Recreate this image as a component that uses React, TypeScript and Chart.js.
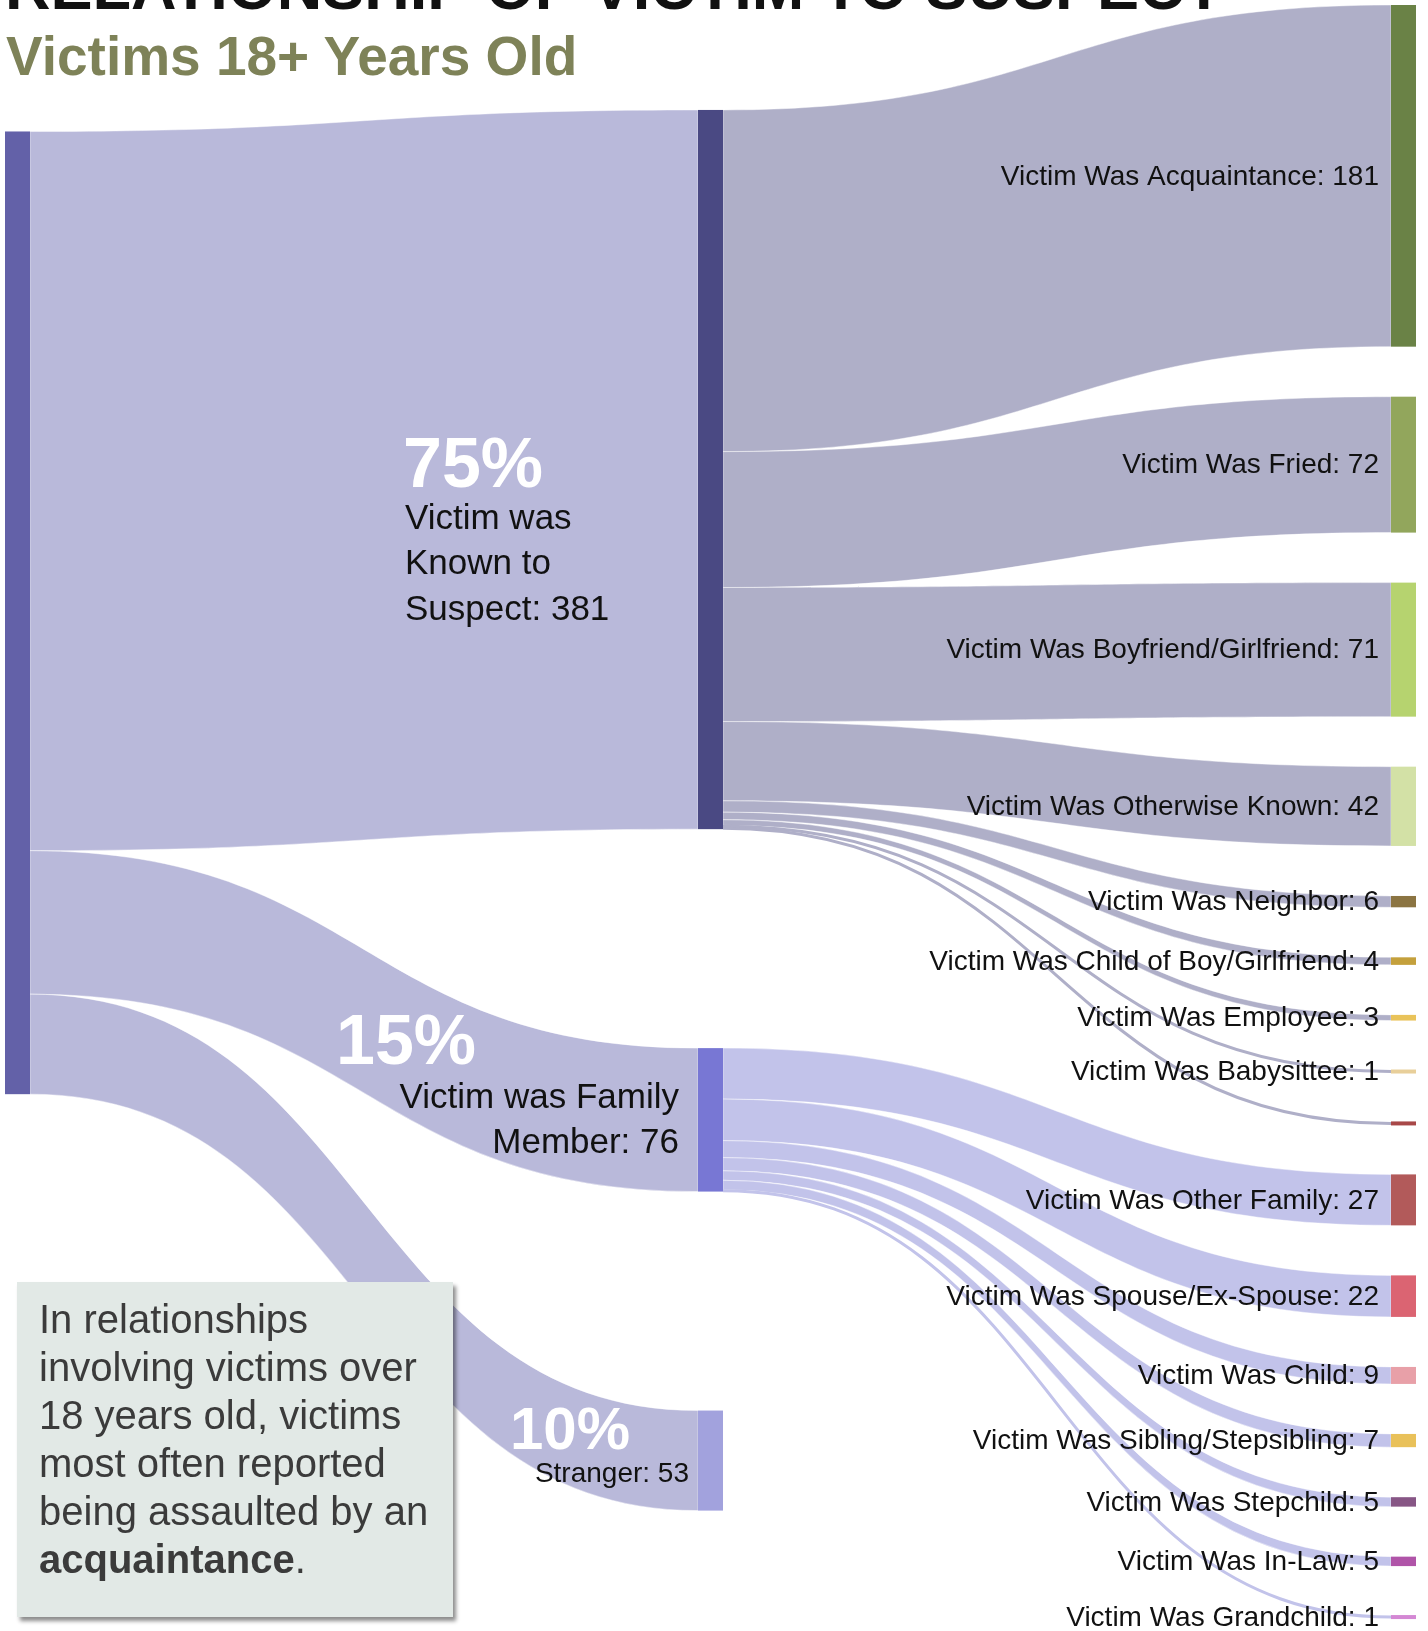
import React, { useEffect, useRef } from "react";
import { Chart, registerables } from "chart.js";

Chart.register(...registerables);

// ---------- DATA ----------
const rootLabel = "Victims 18+ Years Old";
const groupLabels = ["Victim was Known to Suspect", "Victim was Family Member", "Stranger"];
const groupValues = [381, 76, 53];
const knownLabels = [
  "Victim Was Acquaintance",
  "Victim Was Fried",
  "Victim Was Boyfriend/Girlfriend",
  "Victim Was Otherwise Known",
  "Victim Was Neighbor",
  "Victim Was Child of Boy/Girlfriend",
  "Victim Was Employee",
  "Victim Was Babysittee",
  "",
];
const knownValues = [181, 72, 71, 42, 6, 4, 3, 1, 1];
const familyLabels = [
  "Victim Was Other Family",
  "Victim Was Spouse/Ex-Spouse",
  "Victim Was Child",
  "Victim Was Sibling/Stepsibling",
  "Victim Was Stepchild",
  "Victim Was In-Law",
  "Victim Was Grandchild",
];
const familyValues = [27, 22, 9, 7, 5, 5, 1];

// ---------- STYLE ----------
const rootColor = "#6361a8";
const groupColors = ["#4a4983", "#7877d4", "#a2a2dd"];
const knownColors = ["#6a8246", "#92a65c", "#b6d36f", "#d3e1a6", "#8b7442", "#c4a03c", "#e9c35a", "#e8cf9a", "#a84848"];
const familyColors = ["#b25a5a", "#db6472", "#e8a0a8", "#e9c15a", "#875685", "#b054a8", "#d488d4"];
const linkColorRoot = "rgba(185,185,218,1)";
const linkColorKnown = "rgba(175,175,200,1)";
const linkColorFamily = "rgba(194,195,234,1)";
const NODE_W = 25;
const MIN_LINK_PX = 3;
const MIN_NODE_PX = 4;
const FONT = "'Liberation Sans', Arial, Helvetica, sans-serif";
// layout per column (value units): column x fraction, top offset and node padding
const COLUMNS = [
  { frac: 0, top: 67, pad: 0 },
  { frac: 0.5, top: 55.6, pad: 116 },
  { frac: 1, top: 0, pad: 26.5 },
];

type SNode = { label: string; value: number; col: number; color: string; y0: number; y1: number; outOff: number; inOff: number; kind: string };
type SLink = { s: number; t: number; value: number; color: string };

function buildGraph() {
  const nodes: SNode[] = [];
  const links: SLink[] = [];
  const total = groupValues.reduce((a, b) => a + b, 0);
  nodes.push({ label: rootLabel, value: total, col: 0, color: rootColor, y0: 0, y1: 0, outOff: 0, inOff: 0, kind: "root" });
  groupLabels.forEach((l, i) => {
    nodes.push({ label: l, value: groupValues[i], col: 1, color: groupColors[i], y0: 0, y1: 0, outOff: 0, inOff: 0, kind: "group" + i });
    links.push({ s: 0, t: nodes.length - 1, value: groupValues[i], color: linkColorRoot });
  });
  knownLabels.forEach((l, i) => {
    nodes.push({ label: l, value: knownValues[i], col: 2, color: knownColors[i], y0: 0, y1: 0, outOff: 0, inOff: 0, kind: "leaf" });
    links.push({ s: 1, t: nodes.length - 1, value: knownValues[i], color: linkColorKnown });
  });
  familyLabels.forEach((l, i) => {
    nodes.push({ label: l, value: familyValues[i], col: 2, color: familyColors[i], y0: 0, y1: 0, outOff: 0, inOff: 0, kind: "leaf" });
    links.push({ s: 2, t: nodes.length - 1, value: familyValues[i], color: linkColorFamily });
  });
  let yMax = 0;
  COLUMNS.forEach((c, ci) => {
    let y = c.top;
    const colNodes = nodes.filter((n) => n.col === ci);
    colNodes.forEach((n, k) => {
      n.y0 = y;
      n.y1 = y + n.value;
      y = n.y1 + (k < colNodes.length - 1 ? c.pad : 0);
    });
    yMax = Math.max(yMax, y);
  });
  return { nodes, links, yMax, total };
}

const graph = buildGraph();

const sankeyPlugin = {
  id: "sankeyDraw",
  afterDraw(chart: any) {
    const { ctx } = chart;
    const xs = chart.scales.x;
    const ys = chart.scales.y;
    const { nodes, links, total } = graph;
    nodes.forEach((n) => { n.outOff = 0; n.inOff = 0; });
    const nodeLeft = (n: SNode) => {
      const p = xs.getPixelForValue(COLUMNS[n.col].frac);
      if (n.col === 0) return p;
      if (n.col === COLUMNS.length - 1) return p - NODE_W;
      return p - NODE_W / 2;
    };
    const py = (v: number) => ys.getPixelForValue(v);

    ctx.save();
    // links
    links.forEach((l) => {
      const s = nodes[l.s];
      const t = nodes[l.t];
      const x0 = nodeLeft(s) + NODE_W;
      const x1 = nodeLeft(t);
      const sy0 = py(s.y0 + s.outOff);
      const sy1 = py(s.y0 + s.outOff + l.value);
      const ty0 = py(t.y0 + t.inOff);
      const ty1 = py(t.y0 + t.inOff + l.value);
      s.outOff += l.value;
      t.inOff += l.value;
      const xm = (x0 + x1) / 2;
      if (sy1 - sy0 < MIN_LINK_PX) {
        const sm = (sy0 + sy1) / 2;
        const tm = (ty0 + ty1) / 2;
        ctx.beginPath();
        ctx.moveTo(x0, sm);
        ctx.bezierCurveTo(xm, sm, xm, tm, x1, tm);
        ctx.strokeStyle = l.color;
        ctx.lineWidth = MIN_LINK_PX;
        ctx.stroke();
        return;
      }
      ctx.beginPath();
      ctx.moveTo(x0, sy0);
      ctx.bezierCurveTo(xm, sy0, xm, ty0, x1, ty0);
      ctx.lineTo(x1, ty1);
      ctx.bezierCurveTo(xm, ty1, xm, sy1, x0, sy1);
      ctx.closePath();
      ctx.fillStyle = l.color;
      ctx.fill();
      ctx.strokeStyle = "rgba(255,255,255,0.55)";
      ctx.lineWidth = 0.8;
      ctx.stroke();
    });
    // nodes
    nodes.forEach((n) => {
      const x = nodeLeft(n);
      let a = py(n.y0);
      let b = py(n.y1);
      if (b - a < MIN_NODE_PX) {
        const m = (a + b) / 2;
        a = m - MIN_NODE_PX / 2;
        b = m + MIN_NODE_PX / 2;
      }
      ctx.fillStyle = n.color;
      ctx.fillRect(x, a, NODE_W, b - a);
    });
    // leaf labels
    ctx.textAlign = "right";
    ctx.textBaseline = "middle";
    ctx.fillStyle = "#111";
    ctx.font = `28px ${FONT}`;
    nodes.forEach((n) => {
      if (n.kind !== "leaf" || !n.label) return;
      const cy = (py(n.y0) + py(n.y1)) / 2;
      ctx.fillText(`${n.label}: ${n.value}`, nodeLeft(n) - 12, cy + 1);
    });
    // group labels
    ctx.textBaseline = "alphabetic";
    const pct = (v: number) => `${Math.round((v / total) * 100)}%`;
    const kn = nodes[1];
    const kl = nodeLeft(kn);
    const kc = (py(kn.y0) + py(kn.y1)) / 2;
    ctx.textAlign = "left";
    ctx.fillStyle = "#ffffff";
    ctx.font = `bold 70px ${FONT}`;
    ctx.fillText(pct(kn.value), kl - 295, kc + 17);
    ctx.fillStyle = "#111";
    ctx.font = `35px ${FONT}`;
    ["Victim was", "Known to", `Suspect: ${kn.value}`].forEach((line, i) => {
      ctx.fillText(line, kl - 293, kc + 59 + i * 45.5);
    });
    const fn = nodes[2];
    const fl = nodeLeft(fn);
    const ft = py(fn.y0);
    ctx.textAlign = "left";
    ctx.fillStyle = "#ffffff";
    ctx.font = `bold 70px ${FONT}`;
    ctx.fillText(pct(fn.value), fl - 362, ft + 16);
    ctx.textAlign = "right";
    ctx.fillStyle = "#111";
    ctx.font = `35px ${FONT}`;
    ctx.fillText("Victim was Family", fl - 19, ft + 60);
    ctx.fillText(`Member: ${fn.value}`, fl - 19, ft + 105);
    const sn = nodes[3];
    const sl = nodeLeft(sn);
    const sc = (py(sn.y0) + py(sn.y1)) / 2;
    ctx.textAlign = "left";
    ctx.fillStyle = "#ffffff";
    ctx.font = `bold 60px ${FONT}`;
    ctx.fillText(pct(sn.value), sl - 188, sc - 12);
    ctx.textAlign = "right";
    ctx.fillStyle = "#111";
    ctx.font = `28px ${FONT}`;
    ctx.fillText(`${sn.label}: ${sn.value}`, sl - 9, sc + 21);
    ctx.restore();
  },
};

export default function App() {
  const canvasRef = useRef<HTMLCanvasElement | null>(null);

  useEffect(() => {
    document.body.style.margin = "0";
    document.body.style.overflow = "hidden";
    const canvas = canvasRef.current;
    if (!canvas) return;
    const chart = new Chart(canvas, {
      type: "scatter",
      data: { datasets: [{ data: [] }] },
      options: {
        animation: false,
        responsive: false,
        devicePixelRatio: 1,
        layout: { padding: { left: 5, right: 12, top: 5, bottom: 13 } },
        scales: {
          x: { type: "linear", min: 0, max: 1, display: false },
          y: { type: "linear", min: 0, max: graph.yMax, reverse: true, display: false },
        },
        plugins: { legend: { display: false }, tooltip: { enabled: false }, title: { display: false } },
      },
      plugins: [sankeyPlugin],
    } as any);
    return () => chart.destroy();
  }, []);

  return (
    <div style={{ position: "absolute", left: 0, top: 0, width: 1428, height: 1631, overflow: "hidden", background: "#fff" }}>
      <canvas ref={canvasRef} width={1428} height={1631} style={{ position: "absolute", left: 0, top: 0, width: 1428, height: 1631, display: "block" }} />
      <div style={{ position: "absolute", left: 5, top: -44.3, fontFamily: FONT, fontWeight: 700, fontSize: 63, lineHeight: "63px", color: "#111", whiteSpace: "nowrap" }}>
        RELATIONSHIP OF VICTIM TO SUSPECT
      </div>
      <div style={{ position: "absolute", left: 6, top: 29.4, fontFamily: FONT, fontWeight: 700, fontSize: 55, lineHeight: "55px", color: "#7e8258", whiteSpace: "nowrap" }}>
        Victims 18+ Years Old
      </div>
      <div
        style={{
          position: "absolute",
          left: 17,
          top: 1282,
          width: 436,
          height: 335,
          boxSizing: "border-box",
          padding: "12.5px 0 0 22px",
          background: "#e2e9e6",
          boxShadow: "3px 4px 4px rgba(0,0,0,0.45)",
          fontFamily: FONT,
          fontSize: 40,
          lineHeight: "48px",
          color: "#3b3b3b",
          whiteSpace: "nowrap",
        }}
      >
        In relationships
        <br />
        involving victims over
        <br />
        18 years old, victims
        <br />
        most often reported
        <br />
        being assaulted by an
        <br />
        <b>acquaintance</b>.
      </div>
    </div>
  );
}
